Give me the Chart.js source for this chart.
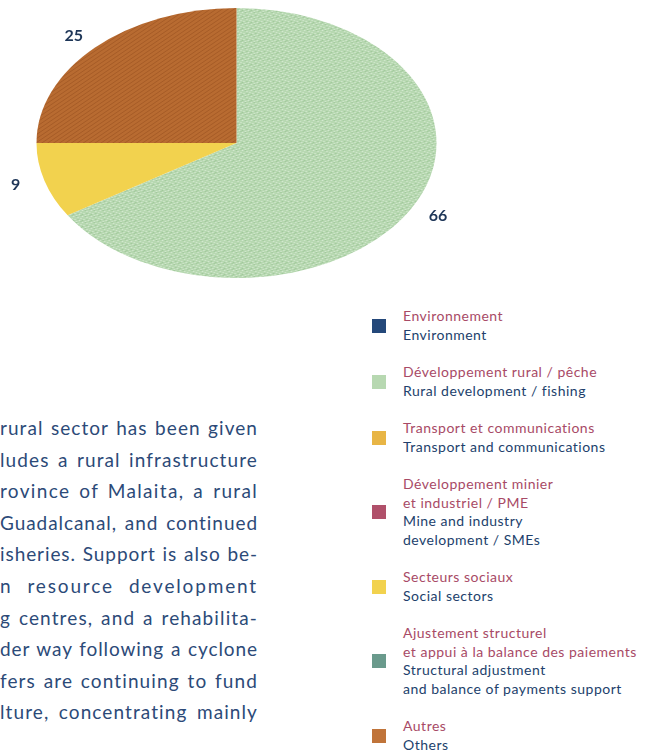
<!DOCTYPE html>
<html>
<head>
<meta charset="utf-8">
<script src="https://cdn.jsdelivr.net/npm/chart.js@4/dist/chart.umd.min.js"></script>
<style>
  body { margin: 0; background: #fff; width: 655px; height: 752px; overflow: hidden; position: relative; font-family: Lato, "Open Sans", sans-serif; }
  #pie { position: absolute; left: 0; top: 0; }
  #legend { position: absolute; left: 372px; top: 307px; font-size: 14px; letter-spacing: 0.5px; line-height: 18.65px; }
  .item { display: flex; align-items: center; margin-bottom: 18.65px; }
  .box { width: 14px; height: 14px; margin-right: 17px; flex: none; }
  .fr { color: #a84a66; }
  .en { color: #223f6c; }
  #text { position: absolute; left: 0; top: 412px; width: 258px; font-size: 19px; letter-spacing: 0.7px; line-height: 31.6px; color: #2c4a78; }
  #text div { text-align: justify; text-align-last: justify; white-space: nowrap; }
</style>
</head>
<body>
<canvas id="pie" width="480" height="290"></canvas>
<div id="legend"></div>
<div id="text"></div>
<script>
// sectors, in legend order (French / English)
const labelsFr = [
  ['Environnement'],
  ['Développement rural / pêche'],
  ['Transport et communications'],
  ['Développement minier', 'et industriel / PME'],
  ['Secteurs sociaux'],
  ['Ajustement structurel', 'et appui à la balance des paiements'],
  ['Autres']
];
const labelsEn = [
  ['Environment'],
  ['Rural development / fishing'],
  ['Transport and communications'],
  ['Mine and industry', 'development / SMEs'],
  ['Social sectors'],
  ['Structural adjustment', 'and balance of payments support'],
  ['Others']
];
// share of commitments, %
const shares = [0, 66, 0, 0, 9, 0, 25];
const colors = ['#24487a', '#b7d8b1', '#e8b545', '#b0506a', '#f2d24e', '#6a9a8c', '#c0743a'];

const bodyLines = [
  'rural sector has been given',
  'ludes a rural infrastructure',
  'rovince of Malaita, a rural',
  'Guadalcanal, and continued',
  'isheries. Support is also be-',
  'n resource development',
  'g centres, and a rehabilita-',
  'der way following a cyclone',
  'fers are continuing to fund',
  'lture, concentrating mainly'
];

const STRETCH = 200 / 135;  // pie is drawn as a flattened ellipse

// small textures for the pie fills
function speckle(base, light, dark) {
  const c = document.createElement('canvas');
  c.width = 6; c.height = 6;
  const g = c.getContext('2d');
  g.fillStyle = base; g.fillRect(0, 0, 6, 6);
  g.fillStyle = light;
  [[0, 0], [3, 1], [1, 3], [4, 4], [5, 2], [2, 5]].forEach(p => g.fillRect(p[0], p[1], 1, 1));
  g.fillStyle = dark;
  [[2, 0], [5, 5], [0, 4], [3, 3]].forEach(p => g.fillRect(p[0], p[1], 1, 1));
  return g.createPattern(c, 'repeat');
}
function weave(base, line) {
  const c = document.createElement('canvas');
  c.width = 4; c.height = 4;
  const g = c.getContext('2d');
  g.fillStyle = base; g.fillRect(0, 0, 4, 4);
  g.fillStyle = line;
  for (let i = 0; i < 4; i++) g.fillRect(i, 3 - i, 1, 1);
  return g.createPattern(c, 'repeat');
}

const fills = colors.slice();
fills[1] = speckle('#b7d8b1', '#d3e9cf', '#a2c99c');
fills[6] = weave('#b86b31', '#a65b27');

const ellipse = {
  id: 'ellipse',
  beforeDatasetsDraw(chart) {
    const arc = chart.getDatasetMeta(0).data[0];
    const ctx = chart.ctx;
    ctx.save();
    ctx.translate(arc.x, arc.y);
    ctx.scale(STRETCH, 1);
    ctx.translate(-arc.x, -arc.y);
  },
  afterDatasetsDraw(chart) {
    chart.ctx.restore();
  }
};

const valueLabels = {
  id: 'valueLabels',
  afterDraw(chart) {
    const ctx = chart.ctx;
    const meta = chart.getDatasetMeta(0);
    ctx.save();
    ctx.font = 'bold 16px Lato, "Open Sans", sans-serif';
    ctx.fillStyle = '#1e3658';
    ctx.textAlign = 'center';
    ctx.textBaseline = 'middle';
    meta.data.forEach((arc, i) => {
      const v = shares[i];
      if (!v) return;
      const mid = (arc.startAngle + arc.endAngle) / 2;
      const x = arc.x + Math.cos(mid) * arc.outerRadius * STRETCH * 1.15;
      const y = arc.y + Math.sin(mid) * arc.outerRadius * 1.12;
      ctx.fillText(String(v), x, y);
    });
    ctx.restore();
  }
};

new Chart(document.getElementById('pie'), {
  type: 'pie',
  data: {
    labels: labelsEn.map(l => l.join(' ')),
    datasets: [{
      data: shares,
      backgroundColor: fills,
      borderWidth: 0,
      hoverOffset: 0,
      offset: 0,
      clip: false
    }]
  },
  options: {
    responsive: false,
    animation: false,
    events: [],
    radius: 135,
    layout: { padding: { left: 100, right: 107, top: 8, bottom: 12 } },
    plugins: { legend: { display: false }, tooltip: { enabled: false } }
  },
  plugins: [ellipse, valueLabels]
});

// legend
const legend = document.getElementById('legend');
labelsFr.forEach((fr, i) => {
  const item = document.createElement('div');
  item.className = 'item';
  const box = document.createElement('div');
  box.className = 'box';
  box.style.background = colors[i];
  const txt = document.createElement('div');
  fr.forEach(t => { const d = document.createElement('div'); d.className = 'fr'; d.textContent = t; txt.appendChild(d); });
  labelsEn[i].forEach(t => { const d = document.createElement('div'); d.className = 'en'; d.textContent = t; txt.appendChild(d); });
  item.appendChild(box);
  item.appendChild(txt);
  legend.appendChild(item);
});

// justified column: spread loose lines partly by letter spacing, rest by word spacing
const text = document.getElementById('text');
const colWidth = 258;
bodyLines.forEach(t => {
  const d = document.createElement('div');
  const s = document.createElement('span');
  s.textContent = t;
  d.appendChild(s);
  d.style.textAlignLast = 'left';
  text.appendChild(d);
  const extra = colWidth - s.getBoundingClientRect().width;
  if (extra > 0) {
    d.style.letterSpacing = (0.7 + 0.6 * extra / t.length) + 'px';
  }
  d.style.textAlignLast = '';
});
</script>
</body>
</html>
